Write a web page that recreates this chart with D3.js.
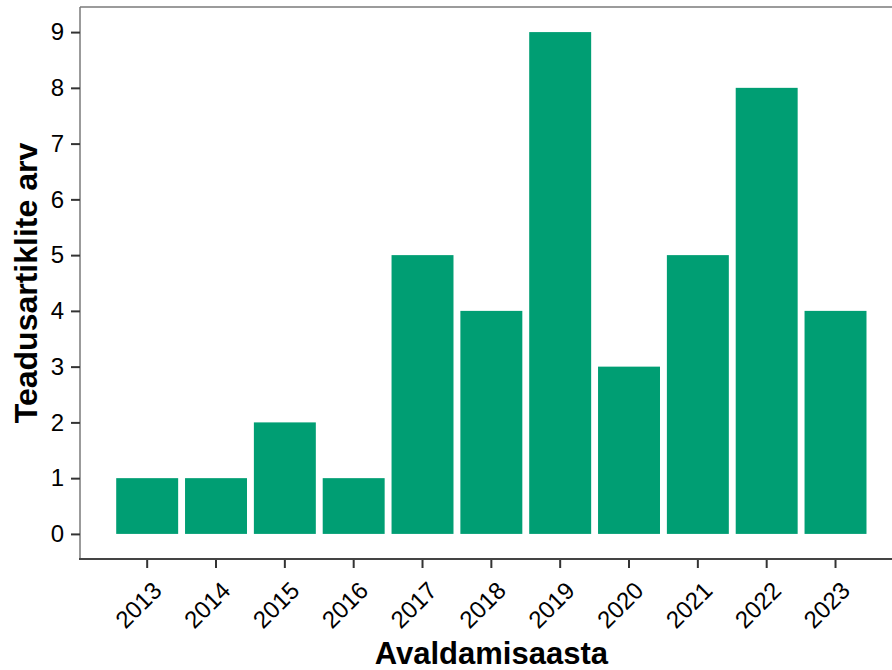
<!DOCTYPE html>
<html>
<head>
<meta charset="utf-8">
<script src="https://cdn.jsdelivr.net/npm/d3@7/dist/d3.min.js"></script>
<style>
  html, body { margin: 0; padding: 0; background: #fff; }
  svg { display: block; }
  text { font-family: "Liberation Sans", Arial, sans-serif; fill: #000; }
</style>
</head>
<body>
<script>
const years = ["2013","2014","2015","2016","2017","2018","2019","2020","2021","2022","2023"];
const counts = [1, 1, 2, 1, 5, 4, 9, 3, 5, 8, 4];
const yTicks = [0,1,2,3,4,5,6,7,8,9];
const xTitle = "Avaldamisaasta";
const yTitle = "Teadusartiklite arv";

const W = 892, H = 670;
const panel = { left: 80, top: 7, right: 902.7, bottom: 559 };

const svg = d3.select("body").append("svg").attr("width", W).attr("height", H);

const x = d3.scaleBand().domain(years).range([panel.left, panel.right])
  .paddingInner(0.1).paddingOuter(0.526);
const y = d3.scaleLinear().domain([-0.45, 9.45]).range([panel.bottom, panel.top]);

// bars
svg.append("g").selectAll("rect").data(years).join("rect")
  .attr("x", d => x(d))
  .attr("width", x.bandwidth())
  .attr("y", (d, i) => y(counts[i]))
  .attr("height", (d, i) => y(0) - y(counts[i]))
  .attr("fill", "#009E73");

// panel border (top, left)
svg.append("line").attr("x1", panel.left).attr("x2", W).attr("y1", panel.top).attr("y2", panel.top)
  .attr("stroke", "#7a7a7a").attr("stroke-width", 1.5);
svg.append("line").attr("x1", panel.left).attr("x2", panel.left).attr("y1", panel.top).attr("y2", panel.bottom)
  .attr("stroke", "#7a7a7a").attr("stroke-width", 1.5);

// y axis
const yAxis = svg.append("g").attr("transform", `translate(${panel.left},0)`)
  .call(d3.axisLeft(y).tickValues(yTicks).tickSize(9).tickPadding(7).tickFormat(d3.format("d")));
yAxis.select(".domain").remove();
yAxis.selectAll(".tick line").attr("stroke", "#333").attr("stroke-width", 2);
yAxis.selectAll(".tick text").attr("font-size", 24).attr("fill", "#000")
  .style("font-family", "'Liberation Sans', Arial, sans-serif");

// x axis
const xAxis = svg.append("g").attr("transform", `translate(0,${panel.bottom})`)
  .call(d3.axisBottom(x).tickSize(9).tickPadding(0));
xAxis.select(".domain").remove();
svg.append("line").attr("x1", panel.left - 1).attr("x2", W).attr("y1", panel.bottom).attr("y2", panel.bottom)
  .attr("stroke", "#444").attr("stroke-width", 2);
xAxis.selectAll(".tick line").attr("stroke", "#333").attr("stroke-width", 2);
xAxis.selectAll(".tick text")
  .attr("font-size", 24).attr("fill", "#000")
  .style("font-family", "'Liberation Sans', Arial, sans-serif")
  .attr("text-anchor", "end")
  .attr("dy", null)
  .attr("y", null)
  .attr("transform", "translate(16,33) rotate(-45)");

// titles
svg.append("text").attr("x", (panel.left + panel.right) / 2).attr("y", 664)
  .attr("text-anchor", "middle").attr("font-size", 31).attr("font-weight", "bold").text(xTitle);
svg.append("text").attr("transform", `translate(37,${(panel.top + panel.bottom) / 2}) rotate(-90)`)
  .attr("text-anchor", "middle").attr("font-size", 32).attr("font-weight", "bold").text(yTitle);
</script>
</body>
</html>
